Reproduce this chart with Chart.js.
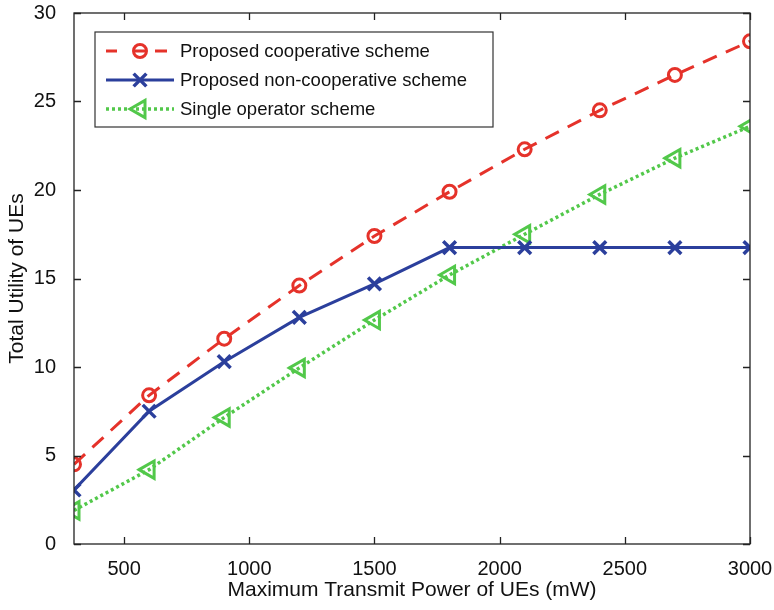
<!DOCTYPE html>
<html>
<head>
<meta charset="utf-8">
<script src="https://cdn.jsdelivr.net/npm/chart.js@4"></script>
<style>
  html, body { margin: 0; padding: 0; background: #fff; }
  #wrap { width: 774px; height: 610px; }
</style>
</head>
<body>
<div id="wrap"><canvas id="mainChart" width="774" height="610"></canvas></div>
<script>
// datos
const powers = [300, 600, 900, 1200, 1500, 1800, 2100, 2400, 2700, 3000];
const cooperative = [4.5, 8.4, 11.6, 14.6, 17.4, 19.9, 22.3, 24.5, 26.5, 28.4];
const nonCooperative = [3.05, 7.5, 10.3, 12.8, 14.7, 16.75, 16.75, 16.75, 16.75, 16.75];
const singleOperator = [1.9, 4.2, 7.15, 9.95, 12.65, 15.2, 17.5, 19.75, 21.8, 23.6];
const xTicks = [500, 1000, 1500, 2000, 2500, 3000];
const yTicks = [0, 5, 10, 15, 20, 25, 30];

const colors = {
    red: "#e5322a",
    blue: "#2b3f9c",
    green: "#52c84a",
};
const font = "'Liberation Sans', Arial, sans-serif";

function toPoints(vals) {
    return powers.map((p, i) => ({ x: p, y: vals[i] }));
}

// caja estilo MATLAB con marcas hacia dentro
const boxPlugin = {
    id: "box",
    afterDraw(chart) {
        const { ctx, chartArea: a, scales } = chart;
        ctx.save();
        ctx.strokeStyle = "#222";
        ctx.lineWidth = 1.3;
        ctx.strokeRect(a.left, a.top, a.right - a.left, a.bottom - a.top);
        const len = 7;
        ctx.beginPath();
        xTicks.forEach((v) => {
            const x = Math.round(scales.x.getPixelForValue(v)) + 0.5;
            ctx.moveTo(x, a.bottom); ctx.lineTo(x, a.bottom - len);
            ctx.moveTo(x, a.top); ctx.lineTo(x, a.top + len);
        });
        yTicks.forEach((v) => {
            const y = Math.round(scales.y.getPixelForValue(v)) + 0.5;
            ctx.moveTo(a.left, y); ctx.lineTo(a.left + len, y);
            ctx.moveTo(a.right, y); ctx.lineTo(a.right - len, y);
        });
        ctx.stroke();
        ctx.restore();
    },
};

// leyenda dentro del área del gráfico
const legendPlugin = {
    id: "insideLegend",
    afterDraw(chart) {
        const { ctx, chartArea: a } = chart;
        const bx = a.left + 21, by = a.top + 19, bw = 398, bh = 95;
        ctx.save();
        ctx.fillStyle = "#fff";
        ctx.fillRect(bx, by, bw, bh);
        ctx.strokeStyle = "#333";
        ctx.lineWidth = 1.2;
        ctx.strokeRect(bx, by, bw, bh);
        ctx.textBaseline = "middle";
        chart.data.datasets.forEach((ds, i) => {
            const y = by + 19 + i * 29;
            const x0 = bx + 11, x1 = bx + 79, xm = bx + 45;
            ctx.strokeStyle = ds.borderColor;
            ctx.lineWidth = ds.borderWidth;
            ctx.setLineDash(ds.legendDash || ds.borderDash || []);
            ctx.beginPath();
            ctx.moveTo(x0, y); ctx.lineTo(x1, y);
            ctx.stroke();
            ctx.setLineDash([]);
            ctx.fillStyle = "rgba(255,255,255,0)";
            ctx.strokeStyle = ds.pointBorderColor;
            ctx.lineWidth = ds.pointBorderWidth;
            Chart.helpers.drawPoint(ctx, {
                pointStyle: ds.pointStyle,
                rotation: ds.pointRotation || 0,
                radius: ds.pointRadius,
                borderWidth: ds.pointBorderWidth,
            }, xm, y);
            ctx.fillStyle = "#111";
            ctx.font = "18.5px " + font;
            ctx.fillText(ds.label, bx + 85, y + 1);
        });
        ctx.restore();
    },
};

const ctx = document.getElementById("mainChart").getContext("2d");
new Chart(ctx, {
    type: "line",
    data: {
        datasets: [
            {
                label: "Proposed cooperative scheme",
                data: toPoints(cooperative),
                borderColor: colors.red,
                backgroundColor: "#fff",
                borderWidth: 3,
                borderDash: [15, 10],
                legendDash: [11, 18, 10, 10, 12, 40],
                pointStyle: "circle",
                pointRadius: 6.5,
                pointBorderWidth: 3,
                pointBorderColor: colors.red,
                pointBackgroundColor: "rgba(255,255,255,0)",
            },
            {
                label: "Proposed non-cooperative scheme",
                data: toPoints(nonCooperative),
                borderColor: colors.blue,
                backgroundColor: colors.blue,
                borderWidth: 3,
                pointStyle: "crossRot",
                pointRadius: 9,
                pointBorderWidth: 3.5,
                pointBorderColor: colors.blue,
            },
            {
                label: "Single operator scheme",
                data: toPoints(singleOperator),
                borderColor: colors.green,
                backgroundColor: "#fff",
                borderWidth: 3.5,
                borderDash: [3, 3],
                pointStyle: "triangle",
                pointRotation: -90,
                pointRadius: 10,
                pointBorderWidth: 3,
                pointBorderColor: colors.green,
                pointBackgroundColor: "rgba(255,255,255,0)",
            },
        ],
    },
    options: {
        responsive: false,
        animation: false,
        layout: { padding: { top: 11, right: 24, left: 0, bottom: 0 } },
        plugins: {
            legend: { display: false },
            tooltip: { enabled: false },
        },
        elements: { line: { tension: 0 } },
        scales: {
            x: {
                type: "linear",
                min: 300,
                max: 3000,
                grid: { display: false },
                border: { display: false },
                afterBuildTicks: (s) => { s.ticks = xTicks.map((v) => ({ value: v })); },
                afterFit: (s) => {
                    s.height = 66;
                    s.paddingLeft = 0;
                    s.paddingRight = 0;
                },
                ticks: {
                    color: "#111",
                    padding: 5,
                    maxRotation: 0,
                    callback: (v) => String(v),
                    font: { size: 20, family: font },
                },
                title: {
                    display: true,
                    text: "Maximum Transmit Power of UEs (mW)",
                    color: "#111",
                    padding: { top: 0, bottom: 7 },
                    font: { size: 21, family: font },
                },
            },
            y: {
                min: 0,
                max: 30,
                grid: { display: false },
                border: { display: false },
                afterBuildTicks: (s) => { s.ticks = yTicks.map((v) => ({ value: v })); },
                afterFit: (s) => {
                    s.width = 74;
                    s.paddingTop = 0;
                    s.paddingBottom = 0;
                },
                ticks: {
                    color: "#111",
                    padding: 10,
                    callback: (v) => String(v),
                    font: { size: 20, family: font },
                },
                title: {
                    display: true,
                    text: "Total Utility of UEs",
                    color: "#111",
                    padding: { top: 5, bottom: 0 },
                    font: { size: 21, family: font },
                },
            },
        },
    },
    plugins: [boxPlugin, legendPlugin],
});
</script>
</body>
</html>
